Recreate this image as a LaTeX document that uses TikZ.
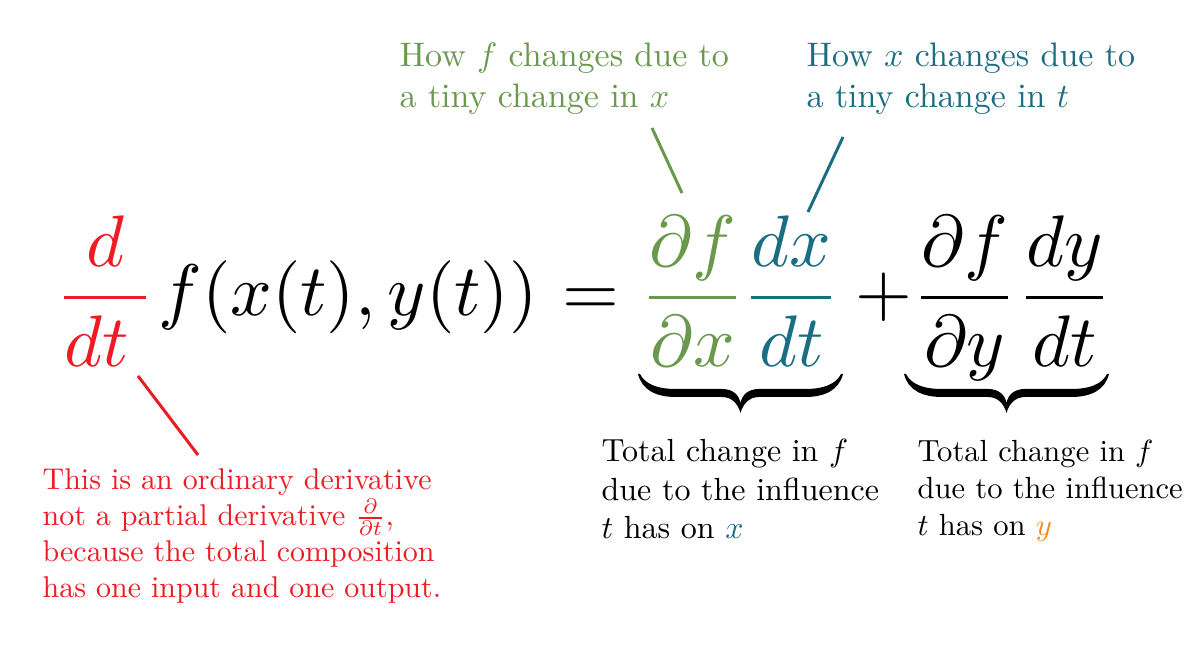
\documentclass[tikz,border=0pt]{standalone}
\usepackage{amsmath}
\definecolor{cred}{RGB}{237,28,36}
\definecolor{cgreen}{RGB}{106,153,78}
\definecolor{cteal}{RGB}{27,110,130}
\definecolor{corange}{RGB}{240,140,30}
\tikzset{
  note/.style={anchor=north west,inner sep=0pt,align=left},
  eqpart/.style={anchor=base west,inner sep=0pt,scale=3.65,
    execute at begin node={\nulldelimiterspace=0pt}},
  lead/.style={line width=1.5pt},
  pics/ubrace/.style={code={
    \fill (0,0) .. controls (4,16) and (18,23) .. (38,23) -- (84,23)
      .. controls (94,23) and (100,30) .. (102.5,39)
      .. controls (105,30) and (111,23) .. (121,23) -- (167,23)
      .. controls (187,23) and (201,16) .. (205,0) -- (203,0)
      .. controls (198,10) and (186,15) .. (167,15) -- (121,15)
      .. controls (110,15) and (104,21) .. (102.5,29)
      .. controls (101,21) and (95,15) .. (84,15) -- (38,15)
      .. controls (19,15) and (7,10) .. (2,0) -- cycle;
  }}
}
\begin{document}
\begin{tikzpicture}[x=0.5pt,y=-0.5pt]
\useasboundingbox (0,0) rectangle (1200,651);
% equation parts
\node[eqpart,text=cred] (ddt) at (63,316) {$\displaystyle\frac{d}{dt\hspace{2.3pt}}$};
\node[eqpart] (fxy) at (157,316) {$f(x(t),y(t))$};
\node[eqpart] (eqs) at (561,316) {$=$};
\node[eqpart,text=cgreen] (dfdx) at (648,316) {$\displaystyle\frac{\partial f}{\partial x}$};
\node[eqpart,text=cteal] (dxdt) at (750,316) {$\displaystyle\frac{dx}{dt}$};
\node[eqpart] (plus) at (854,316) {$+$};
\node[eqpart] (dfdy) at (920,316) {$\displaystyle\frac{\partial f}{\partial y}$};
\node[eqpart] (dydt) at (1025,316) {$\displaystyle\frac{dy}{dt}$};
\pic (br1) at (638,374) {ubrace};
\pic (br2) at (904,374) {ubrace};
% annotations
\node[note,text=cgreen,scale=1.7] (topg) at (399,42) {\fontsize{10}{12.9}\selectfont How $f$ changes due to\\a tiny change in $x$};
\node[note,text=cteal,scale=1.7] (topt) at (806,42) {\fontsize{10}{12.9}\selectfont How $x$ changes due to\\a tiny change in $t$};
\node[note,text=cred,scale=1.5] (redn) at (42,468) {\fontsize{10}{12.67}\selectfont This is an ordinary derivative\\not a partial derivative $\frac{\partial}{\partial t}$,\\because the total composition\\has one input and one output.};
\node[note,scale=1.6] (b1) at (601,439) {\fontsize{10}{13.1}\selectfont Total change in $f$\\due to the influence\\$t$ has on \textcolor{cteal}{$x$}};
\node[note,scale=1.53] (b2) at (917,440) {\fontsize{10}{13.7}\selectfont Total change in $f$\\due to the influence\\$t$ has on \textcolor{corange}{$y$}};
% leaders
\coordinate (r1) at (138,376); \coordinate (r2) at (198,455);
\coordinate (g1) at (652,128); \coordinate (g2) at (682,193);
\coordinate (t1) at (843,137); \coordinate (t2) at (808,212);
\draw[lead,cred] (r1) -- (r2);
\draw[lead,cgreen] (g1) -- (g2);
\draw[lead,cteal] (t1) -- (t2);
\end{tikzpicture}
\end{document}
